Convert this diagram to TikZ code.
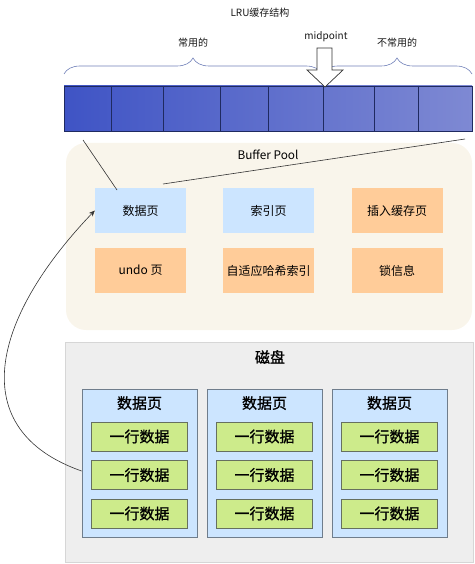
\documentclass[tikz,border=0pt]{standalone}
\usepackage{fontspec}
\setmainfont{Noto Sans CJK SC}
\newfontfamily\cjkheavy{Noto Sans CJK SC}[FakeBold=1]
\usetikzlibrary{decorations.pathreplacing,arrows.meta}

\definecolor{lruL}{HTML}{3F54C5}
\definecolor{lruR}{HTML}{7E89D3}
\definecolor{lruEdge}{HTML}{1F2A60}
\definecolor{poolFill}{HTML}{F9F5EB}
\definecolor{pageBlue}{HTML}{CCE5FF}
\definecolor{pageOrange}{HTML}{FFCC99}
\definecolor{diskFill}{HTML}{EEEEEE}
\definecolor{diskEdge}{HTML}{D6D6D6}
\definecolor{pageEdge}{HTML}{6F7D8C}
\definecolor{rowGreen}{HTML}{CDEB8B}
\definecolor{rowEdge}{HTML}{66705F}
\definecolor{braceCol}{HTML}{7080B8}

\tikzset{
  smalltext/.style={font=\fontsize{10}{12}\selectfont, text=black!90},
  bufbox/.style={minimum width=91pt, minimum height=45pt, inner sep=0pt,
    font=\fontsize{12}{14}\selectfont},
  diskpage/.style={draw=pageEdge, line width=0.8pt, fill=pageBlue,
    minimum width=115pt, minimum height=148pt, inner sep=0pt},
  rowbox/.style={draw=rowEdge, line width=0.8pt, fill=rowGreen,
    minimum width=96pt, minimum height=29pt, inner sep=0pt,
    font=\cjkheavy\fontsize{15}{17}\selectfont},
  bigtext/.style={font=\cjkheavy\fontsize{15}{17}\selectfont},
  lrubrace/.style={draw=braceCol, line width=0.6pt,
    decorate, decoration={brace, amplitude=16pt}},
}

\begin{document}
\begin{tikzpicture}[x=1pt, y=-1pt]
  \useasboundingbox (0,0) rectangle (474,564);

  % titles above the LRU list
  \node[smalltext] (title) at (260,13) {LRU缓存结构};
  \node[smalltext] (hot) at (193,43) {常用的};
  \node[smalltext] (mid) at (326,37) {midpoint};
  \node[smalltext] (cold) at (397,43) {不常用的};

  % braces
  \draw[lrubrace] (64,74) -- (322,74);
  \draw[lrubrace] (322,74) -- (472,74);

  % LRU list
  \node[draw=lruEdge, line width=0.8pt, left color=lruL, right color=lruR,
    minimum width=408pt, minimum height=45pt, inner sep=0pt] (lru) at (268,108.5) {};
  \foreach \x in {111,163,220,268,323,374,418}
    \draw[lruEdge, line width=0.8pt] (\x,86) -- (\x,131);

  % midpoint arrow
  \draw[fill=white, draw=black!80, line width=0.7pt]
    (317,48) -- (332,48) -- (332,70) -- (343,70) -- (325,87)
    -- (307,70) -- (317,70) -- cycle;

  % buffer pool
  \node[fill=poolFill, rounded corners=20pt, minimum width=406pt,
    minimum height=187pt] (pool) at (269,236.5) {};
  \node[font=\fontsize{11.8}{14}\selectfont] (poolname) at (268,155) {Buffer Pool};

  \node[bufbox, fill=pageBlue] (bp1) at (140.5,210.5) {数据页};
  \node[bufbox, fill=pageBlue] (bp2) at (268.5,210.5) {索引页};
  \node[bufbox, fill=pageOrange] (bp3) at (397,210.5) {插入缓存页};
  \node[bufbox, fill=pageOrange] (bp4) at (140.5,270.5) {undo 页};
  \node[bufbox, fill=pageOrange] (bp5) at (268.5,270.5) {自适应哈希索引};
  \node[bufbox, fill=pageOrange] (bp6) at (397,270.5) {锁信息};

  % lines from the list to the data page
  \coordinate (lruA) at (83,140);
  \coordinate (lruB) at (465,139);
  \coordinate (bpA) at (117,190);
  \coordinate (bpB) at (163,184);
  \draw[black!80, line width=0.6pt] (lruA) -- (bpA);
  \draw[black!80, line width=0.6pt] (lruB) -- (bpB);

  % disk
  \node[fill=diskFill, draw=diskEdge, line width=0.6pt, minimum width=408pt,
    minimum height=220pt, inner sep=0pt] (disk) at (269,452) {};
  \node[bigtext] (diskname) at (270,357) {磁盘};

  \foreach \i/\x in {1/139.5, 2/264.5, 3/389.5} {
    \node[diskpage] (dp\i) at (\x,463) {};
    \node[bigtext] (dpname\i) at (\x,403) {数据页};
    \node[rowbox] (row\i a) at (\x,436.5) {一行数据};
    \node[rowbox] (row\i b) at (\x,475) {一行数据};
    \node[rowbox] (row\i c) at (\x,513.5) {一行数据};
  }

  % loading a page from disk
  \draw[-{Stealth[length=6pt, width=5pt]}, black!80, line width=0.6pt]
    ([yshift=-8pt]dp1.west) .. controls (-35,430) and (-10,320) .. (bp1.west);
\end{tikzpicture}
\end{document}
